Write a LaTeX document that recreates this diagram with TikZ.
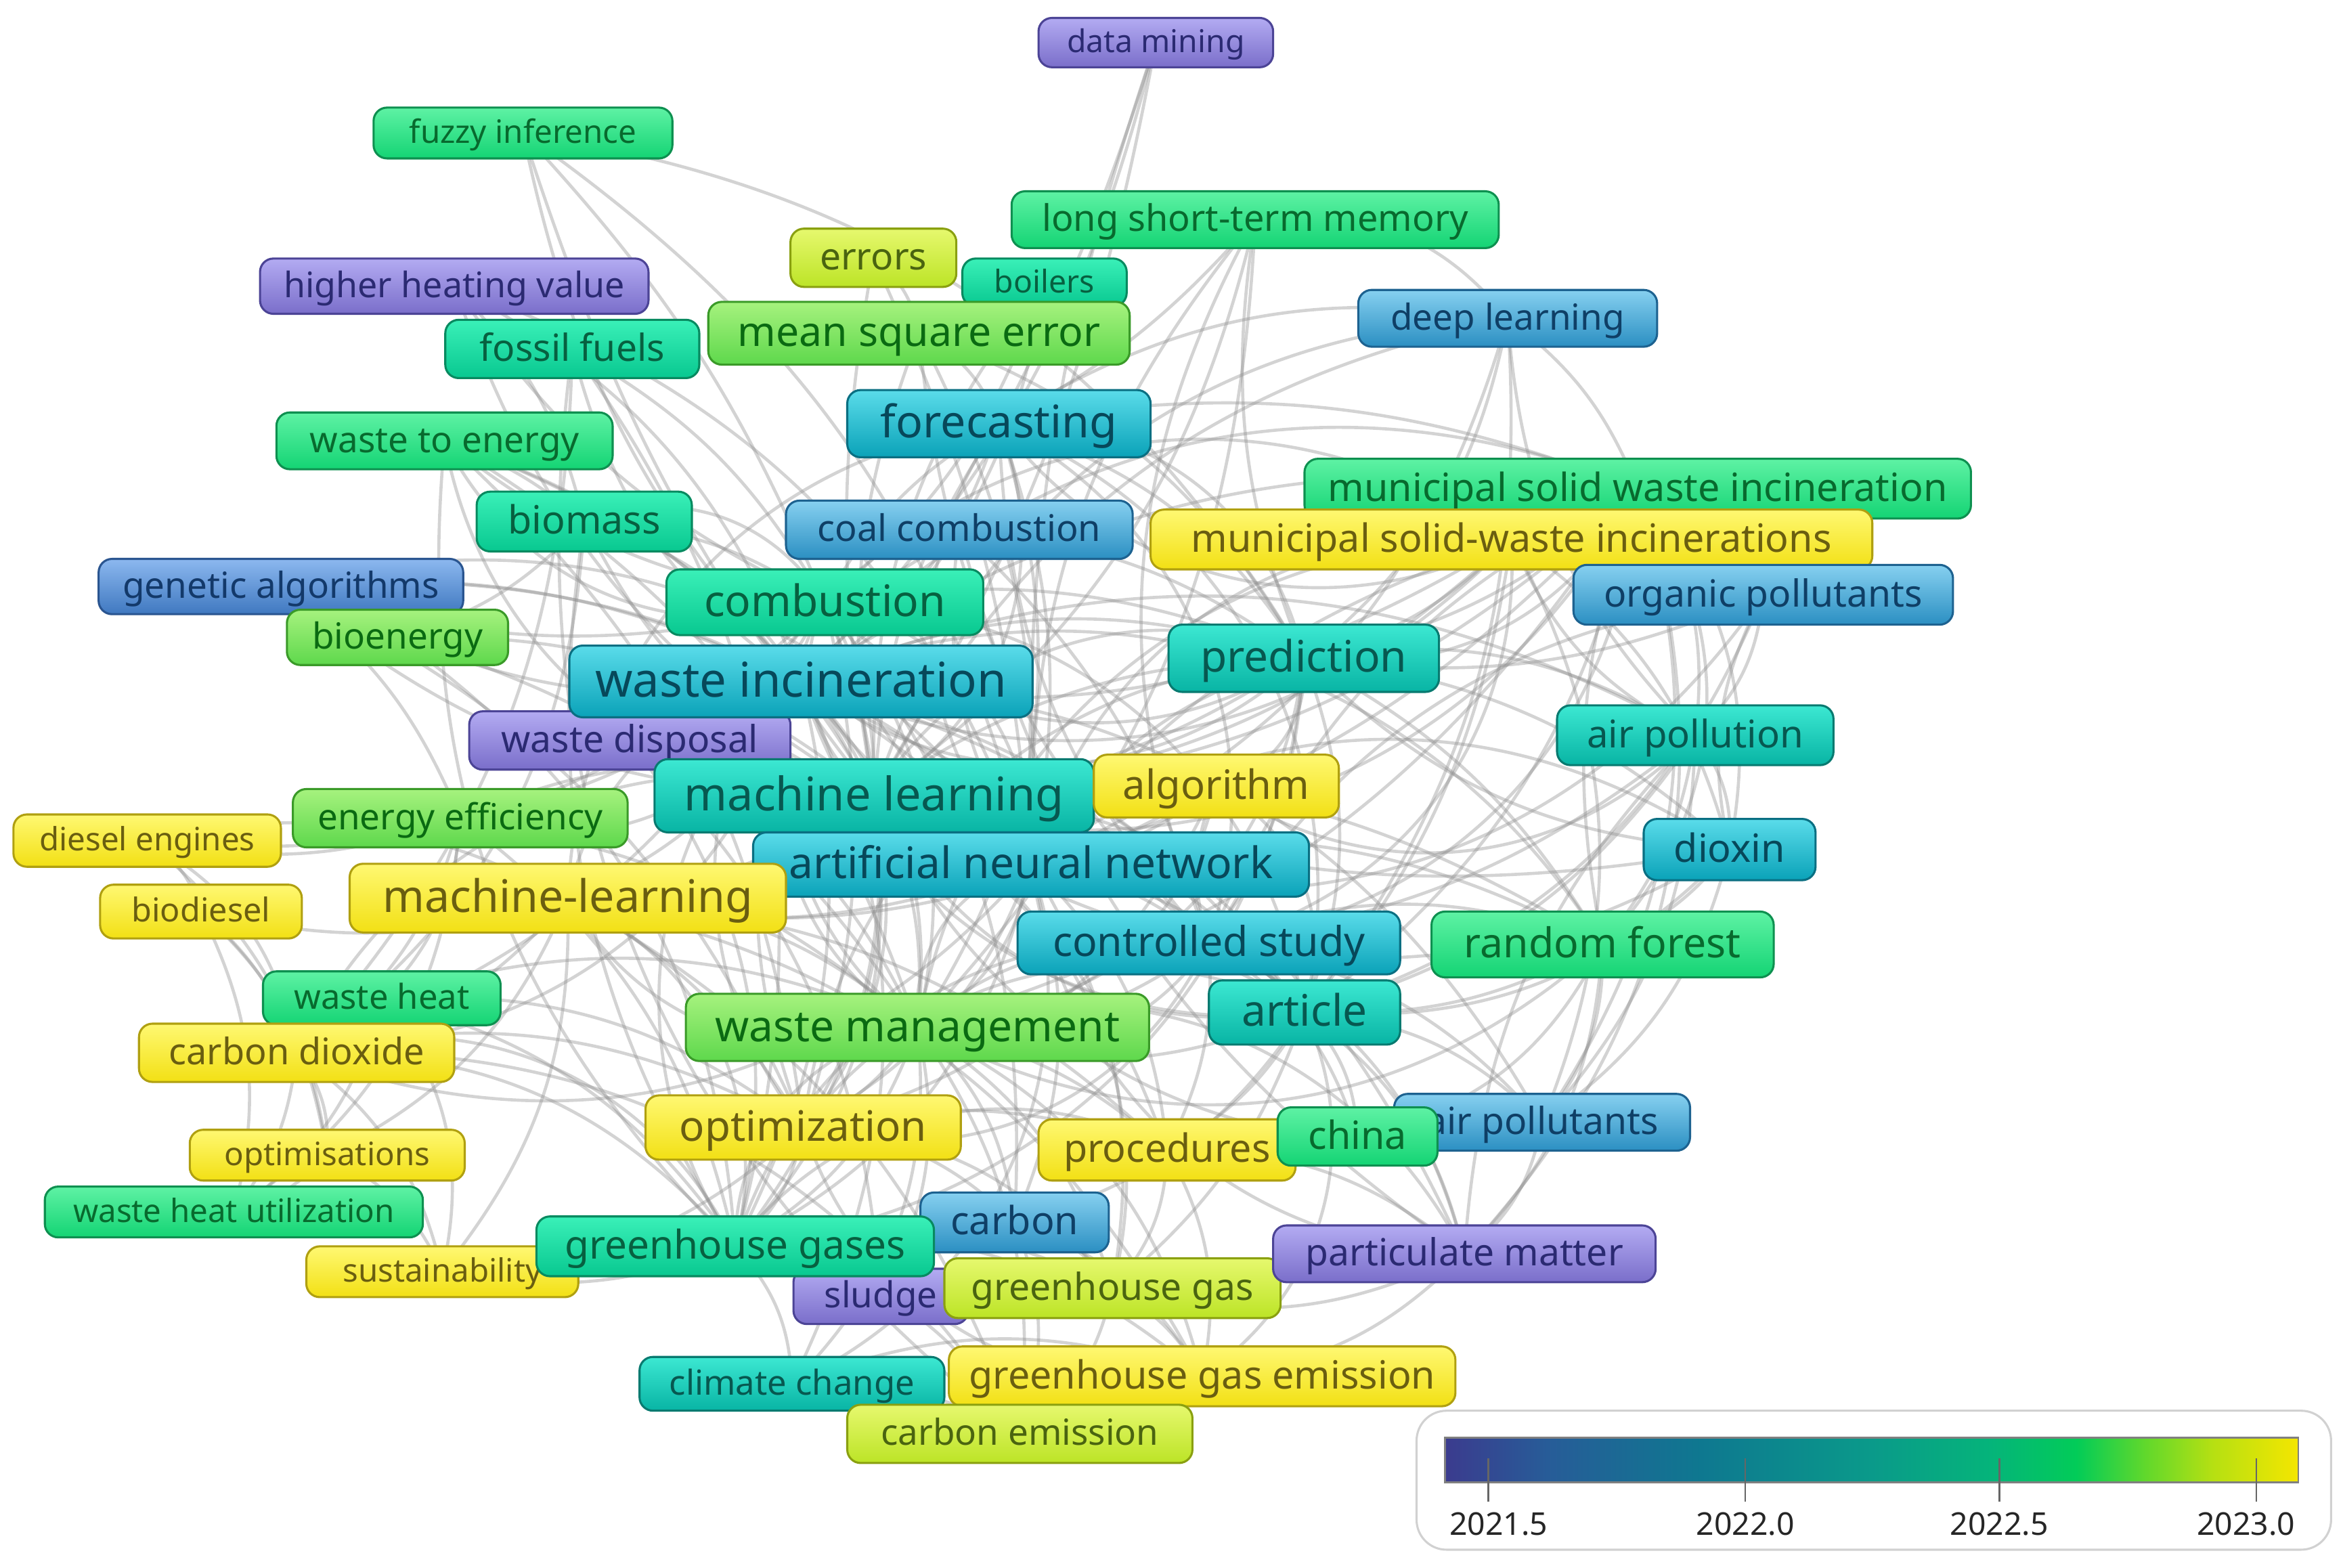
\documentclass[tikz,border=0pt]{standalone}
\usepackage{fontspec}
\setmainfont{Noto Sans}
\usetikzlibrary{backgrounds}
\newcommand\fsz[1]{\fontsize{#1}{#1}\selectfont}
\definecolor{v0}{HTML}{3B3B8E}
\definecolor{v1}{HTML}{275C98}
\definecolor{v2}{HTML}{0E7890}
\definecolor{v3}{HTML}{0A9A8A}
\definecolor{v4}{HTML}{05B47A}
\definecolor{v5}{HTML}{02CC58}
\definecolor{v6}{HTML}{60D82C}
\definecolor{v7}{HTML}{B6E012}
\definecolor{v8}{HTML}{F4E600}
\pgfdeclarehorizontalshading{vbar}{100bp}{color(0bp)=(v0); color(25bp)=(v0); color(31bp)=(v1); color(40bp)=(v2); color(50bp)=(v3); color(57bp)=(v4); color(62bp)=(v5); color(66bp)=(v6); color(70bp)=(v7); color(75bp)=(v8); color(100bp)=(v8)}
\definecolor{pT}{HTML}{B3ABF2}\definecolor{pB}{HTML}{7A6ECA}\definecolor{pD}{HTML}{4C4496}\definecolor{pX}{HTML}{2B2A72}
\definecolor{aT}{HTML}{8CB8EF}\definecolor{aB}{HTML}{3F78C0}\definecolor{aD}{HTML}{2A5590}\definecolor{aX}{HTML}{13396A}
\definecolor{bT}{HTML}{86D0F0}\definecolor{bB}{HTML}{2B8FC2}\definecolor{bD}{HTML}{1D6290}\definecolor{bX}{HTML}{0F3F66}
\definecolor{cT}{HTML}{5ADCEA}\definecolor{cB}{HTML}{0AA2B8}\definecolor{cD}{HTML}{0A6F82}\definecolor{cX}{HTML}{07485A}
\definecolor{tT}{HTML}{3CE8D2}\definecolor{tB}{HTML}{08B4A4}\definecolor{tD}{HTML}{087A70}\definecolor{tX}{HTML}{075850}
\definecolor{qT}{HTML}{3AF0B8}\definecolor{qB}{HTML}{08C890}\definecolor{qD}{HTML}{088A60}\definecolor{qX}{HTML}{076040}
\definecolor{gT}{HTML}{5EF2A4}\definecolor{gB}{HTML}{14D474}\definecolor{gD}{HTML}{0E9050}\definecolor{gX}{HTML}{086A2E}
\definecolor{lT}{HTML}{A6F27E}\definecolor{lB}{HTML}{5ED84C}\definecolor{lD}{HTML}{3A9A28}\definecolor{lX}{HTML}{0A6A12}
\definecolor{yT}{HTML}{E6F86E}\definecolor{yB}{HTML}{BCE426}\definecolor{yD}{HTML}{8AA010}\definecolor{yX}{HTML}{4A6410}
\definecolor{eT}{HTML}{FFF872}\definecolor{eB}{HTML}{F2E014}\definecolor{eD}{HTML}{B0A010}\definecolor{eX}{HTML}{6A5E10}
\tikzset{
  lab/.style={rounded corners=9pt, line width=1.4pt, inner sep=0pt, anchor=center},
  cPur/.style={top color=pT, bottom color=pB, draw=pD, text=pX},
  cBluA/.style={top color=aT, bottom color=aB, draw=aD, text=aX},
  cBluB/.style={top color=bT, bottom color=bB, draw=bD, text=bX},
  cCya/.style={top color=cT, bottom color=cB, draw=cD, text=cX},
  cTea/.style={top color=tT, bottom color=tB, draw=tD, text=tX},
  cTgr/.style={top color=qT, bottom color=qB, draw=qD, text=qX},
  cGrn/.style={top color=gT, bottom color=gB, draw=gD, text=gX},
  cLgr/.style={top color=lT, bottom color=lB, draw=lD, text=lX},
  cYgr/.style={top color=yT, bottom color=yB, draw=yD, text=yX},
  cYel/.style={top color=eT, bottom color=eB, draw=eD, text=eX},
  edge/.style={draw=black!45, draw opacity=0.38, line width=2.1pt},
  tick/.style={draw=black!60, line width=1.2pt},
}
\newcommand\lbl[8]{\node[lab,#1,minimum width=#4pt,minimum height=#5pt,font=\fsz{#6},text height={0.9*#6pt},text depth={0.26*#6pt}] (#8) at (#2,#3) {#7};}
\begin{document}
\begin{tikzpicture}[x=1pt,y=-1pt]
\useasboundingbox (0,0) rectangle (1568,1049);
% labels: style, cx, cy, w, h, font, text, name
\lbl{cPur}{773.5}{28.5}{157}{33}{21}{data mining}{dm}
\lbl{cGrn}{350}{89}{200}{34}{21.5}{fuzzy inference}{fi}
\lbl{cGrn}{840}{147}{326}{38}{24.5}{long short-term memory}{lstm}
\lbl{cYgr}{584.5}{172.5}{111}{39}{25}{errors}{err}
\lbl{cTgr}{699}{189}{110}{32}{21}{boilers}{boil}
\lbl{cPur}{304}{191.5}{260}{37}{23.5}{higher heating value}{hhv}
\lbl{cLgr}{615}{223}{282}{42}{27.5}{mean square error}{mse}
\lbl{cTgr}{383}{233.5}{170}{39}{25}{fossil fuels}{ff}
\lbl{cBluB}{1009}{213}{200}{38}{24}{deep learning}{dl}
\lbl{cCya}{668.5}{283.5}{203}{45}{30}{forecasting}{fc}
\lbl{cGrn}{297.5}{295}{225}{38}{24}{waste to energy}{wte}
\lbl{cGrn}{1096}{327}{446}{40}{26}{municipal solid waste incineration}{mswi}
\lbl{cTgr}{391}{349}{144}{40}{26}{biomass}{bio}
\lbl{cBluB}{642}{354.5}{232}{39}{24.5}{coal combustion}{cc}
\lbl{cYel}{1011.5}{361}{483}{40}{26}{municipal solid-waste incinerations}{mswis}
\lbl{cBluA}{188}{392.5}{244}{37}{24}{genetic algorithms}{ga}
\lbl{cBluB}{1180}{398}{254}{40}{25}{organic pollutants}{op}
\lbl{cTgr}{552}{403}{212}{44}{29}{combustion}{comb}
\lbl{cLgr}{266}{426.5}{148}{37}{24}{bioenergy}{bioe}
\lbl{cPur}{421.5}{495.5}{215}{39}{25}{waste disposal}{wd}
\lbl{cCya}{536}{456}{310}{48}{32}{waste incineration}{wi}
\lbl{cTea}{872.5}{440.5}{181}{45}{29}{prediction}{pred}
\lbl{cTea}{1134.5}{492}{185}{40}{25.5}{air pollution}{ap}
\lbl{cTea}{585}{532.5}{294}{49}{31}{machine learning}{ml}
\lbl{cYel}{814}{526}{164}{42}{27}{algorithm}{alg}
\lbl{cLgr}{308}{547.5}{224}{39}{24}{energy efficiency}{ee}
\lbl{cYel}{98.5}{562.5}{179}{35}{21.5}{diesel engines}{de}
\lbl{cCya}{1157.5}{568.5}{115}{41}{26}{dioxin}{diox}
\lbl{cCya}{690}{578.5}{372}{43}{29}{artificial neural network}{ann}
\lbl{cYel}{380}{601}{292}{46}{30}{machine-learning}{mlh}
\lbl{cYel}{134.5}{610}{135}{36}{22}{biodiesel}{biod}
\lbl{cCya}{809}{631}{256}{42}{27.5}{controlled study}{cs}
\lbl{cGrn}{1072.5}{632}{229}{44}{27.5}{random forest}{rf}
\lbl{cGrn}{255.5}{668}{159}{36}{23}{waste heat}{wh}
\lbl{cTea}{873}{677.5}{128}{43}{29}{article}{art}
\lbl{cLgr}{614}{687.5}{310}{45}{29}{waste management}{wm}
\lbl{cYel}{198.5}{704.5}{211}{39}{24.5}{carbon dioxide}{cd}
\lbl{cYel}{537.5}{754.5}{211}{43}{28}{optimization}{opt}
\lbl{cYel}{781}{769.5}{172}{41}{26}{procedures}{proc}
\lbl{cBluB}{1032}{751}{198}{38}{25}{air pollutants}{apt}
\lbl{cGrn}{908.5}{760.5}{107}{39}{26}{china}{china}
\lbl{cYel}{219}{773}{184}{34}{21.5}{optimisations}{opts}
\lbl{cGrn}{156.5}{811}{253}{34}{21.5}{waste heat utilization}{whu}
\lbl{cBluB}{679}{818}{126}{40}{26}{carbon}{carb}
\lbl{cYel}{296}{851}{182}{34}{21.5}{sustainability}{sus}
\lbl{cPur}{589.5}{867.5}{117}{37}{24}{sludge}{sludge}
\lbl{cTgr}{492}{834}{266}{40}{26.5}{greenhouse gases}{ghgs}
\lbl{cYgr}{744.5}{862}{225}{40}{25}{greenhouse gas}{ghg}
\lbl{cPur}{980}{839}{256}{38}{25}{particulate matter}{pm}
\lbl{cTea}{530}{926}{204}{36}{23}{climate change}{clim}
\lbl{cYel}{804.5}{921}{339}{40}{26}{greenhouse gas emission}{ghge}
\lbl{cYgr}{682.5}{959.5}{231}{39}{24}{carbon emission}{ce}
% connectors
\begin{scope}[on background layer]
\foreach \a/\b/\g in {dm/ml/10,dm/ann/-10,dm/fc/5,dm/wi/15,
 fi/wi/-15,fi/comb/10,fi/ml/-10,fi/ann/20,fi/pred/25,
 lstm/fc/10,lstm/ann/-20,lstm/ml/20,lstm/pred/-15,lstm/dl/30,lstm/cs/-25,lstm/wm/20,
 err/ann/10,err/ml/-10,err/mse/20,boil/comb/15,boil/ml/-20,boil/cc/10,
 hhv/ml/-20,hhv/ann/25,hhv/bio/15,hhv/comb/-15,hhv/wi/20,
 mse/ann/15,mse/ml/-15,mse/pred/20,mse/fc/20,mse/cs/-20,
 ff/comb/15,ff/wi/-20,ff/ghgs/25,ff/cd/20,ff/ce/-30,
 dl/pred/20,dl/ml/-25,dl/ann/25,dl/mswi/15,dl/fc/-20,dl/art/20,dl/ap/-20,
 fc/ann/15,fc/ml/-15,fc/pred/20,fc/wi/20,fc/comb/-15,fc/wm/25,fc/cs/-20,fc/mswi/15,
 wte/wi/15,wte/comb/-15,wte/wm/20,wte/ml/20,wte/bio/10,wte/ghgs/-25,wte/opt/20,
 mswi/wi/-20,mswi/ml/20,mswi/ann/15,mswi/pred/15,mswi/ap/20,mswi/diox/25,mswi/op/20,mswi/cs/-20,mswi/art/20,mswi/rf/-15,mswi/apt/25,mswi/pm/30,mswi/wm/20,
 bio/comb/15,bio/wi/20,bio/ml/-20,bio/bioe/15,bio/ghgs/-20,bio/cd/25,
 cc/comb/10,cc/wi/15,cc/ann/-20,cc/pred/15,cc/pm/-20,cc/cs/15,
 mswis/ml/20,mswis/ann/-15,mswis/pred/15,mswis/op/15,mswis/diox/20,mswis/ap/-20,mswis/apt/25,mswis/art/15,mswis/wi/20,
 ga/ml/-20,ga/wi/15,ga/ann/25,ga/opt/20,ga/comb/-15,ga/ee/15,
 op/pred/15,op/diox/-20,op/ap/20,op/cs/-25,op/art/25,
 comb/ml/15,comb/ann/-20,comb/pred/15,comb/wm/25,comb/ghgs/30,comb/carb/20,comb/cd/20,comb/ee/20,comb/de/25,comb/opt/15,
 bioe/wi/-15,bioe/ml/20,bioe/ghgs/25,bioe/wm/20,
 wi/ml/10,wi/ann/15,wi/pred/20,wi/wm/25,wi/cs/-20,wi/art/20,wi/ap/25,wi/diox/-20,wi/apt/30,wi/pm/25,wi/ghgs/20,wi/clim/25,wi/opt/-20,wi/wd/10,wi/mlh/20,
 pred/ml/15,pred/ann/-20,pred/cs/15,pred/art/20,pred/rf/15,pred/ap/20,pred/diox/-20,
 wd/ml/15,wd/wm/20,wd/ghgs/25,wd/sludge/20,
 ap/art/20,ap/cs/15,ap/diox/20,ap/apt/20,ap/pm/-20,ap/rf/15,
 ml/ann/15,ml/cs/20,ml/art/25,ml/rf/20,ml/wm/15,ml/opt/20,ml/ghgs/25,ml/alg/10,ml/mlh/15,ml/proc/20,
 alg/ann/15,alg/cs/-20,alg/opt/25,alg/mlh/20,
 ee/ml/20,ee/wm/15,ee/ghgs/20,ee/whu/25,ee/wh/20,ee/cd/20,ee/de/15,
 de/mlh/20,de/biod/20,de/cd/25,de/opts/20,
 diox/cs/20,diox/art/25,diox/apt/20,diox/rf/15,
 ann/cs/15,ann/art/20,ann/rf/20,ann/wm/25,ann/opt/20,ann/proc/20,ann/mlh/15,ann/ghgs/25,ann/ghg/20,ann/carb/20,
 mlh/wm/20,mlh/opt/15,mlh/proc/20,mlh/cd/20,mlh/biod/15,mlh/opts/20,mlh/sus/20,mlh/ghge/25,mlh/ce/20,
 biod/opts/20,biod/cd/15,biod/whu/20,
 cs/art/15,cs/rf/20,cs/apt/20,cs/pm/25,cs/proc/15,cs/wm/20,cs/china/20,
 rf/art/15,rf/apt/20,rf/china/25,rf/pm/20,
 wh/whu/20,wh/cd/15,wh/wm/20,wh/opt/20,wh/ghgs/20,wh/sus/25,
 art/apt/20,art/pm/20,art/china/20,art/proc/15,art/wm/20,art/carb/20,art/ghg/15,
 wm/opt/15,wm/ghgs/20,wm/carb/20,wm/ghg/20,wm/proc/15,wm/clim/25,wm/sludge/20,wm/ce/20,wm/ghge/25,
 cd/opt/20,cd/ghgs/25,cd/ce/30,cd/whu/15,cd/opts/20,cd/sus/20,
 opt/proc/15,opt/ghgs/20,opt/carb/20,opt/ghg/25,opt/sus/20,
 proc/china/15,proc/ghg/20,proc/pm/20,proc/ghge/20,
 apt/china/15,apt/pm/20,opts/whu/15,opts/sus/20,
 carb/ghgs/15,carb/ghg/20,carb/ce/20,carb/ghge/20,
 ghgs/ghg/20,ghgs/clim/20,ghgs/ce/25,ghgs/ghge/25,ghgs/sludge/15,ghgs/sus/15,
 pm/ghg/20,pm/ghge/20,ghg/ghge/15,ghg/ce/20,clim/ce/15,clim/ghge/20,ghge/ce/15,
 wi/pred/-40,wi/mswi/35,wi/mswis/-35,wi/art/-40,wi/rf/40,wi/wm/-40,wi/opt/40,wi/ghgs/-40,wi/cd/35,wi/mlh/-35,wi/ee/40,
 ml/pred/40,ml/mswi/-40,ml/diox/40,ml/art/-35,ml/ghg/40,ml/cd/-40,ml/wte/40,ml/fc/-40,ml/comb/40,ml/dl/35,ml/apt/-40,
 ann/fc/40,ann/comb/-40,ann/mswis/40,ann/op/-35,ann/diox/35,ann/pm/-40,ann/wm/-40,ann/clim/40,ann/cd/35,ann/ga/-35,
 comb/wm/-40,comb/mswis/40,comb/pred/-40,comb/art/40,comb/bio/-40,comb/opt/-40,comb/wte/40,
 pred/wm/40,pred/opt/-40,pred/mswi/-35,pred/ghgs/40,pred/fc/-40,
 fc/mswis/-40,fc/art/40,fc/mlh/-40,fc/cs/40,
 wm/cs/-40,wm/art/40,wm/mlh/40,wm/ghgs/-40,wm/pm/40,wm/rf/-35,
 mswi/cs/40,mswi/mswis/45,mswi/rf/40,mswis/cs/40,mswis/wm/-40,
 cs/opt/40,cs/ghgs/-40,art/opt/-40,art/ghge/40,opt/ghge/-40,mlh/ghgs/40,
 alg/wm/40,alg/pred/-40,alg/art/40,alg/ap/-40,ghgs/proc/40,ghgs/cd/-40}
 {\draw[edge] (\a.center) to[bend left=\g] (\b.center);}
\end{scope}
% legend
\node[draw=black!18, line width=1.4pt, rounded corners=20pt, fill=white, minimum width=612pt, minimum height=93pt, inner sep=0pt] (legend) at (1254,990.5) {};
\shade[shading=vbar, draw=black!50, line width=1.2pt] (967,962) rectangle (1538,992);
\foreach \x/\lx/\t in {996/1003/2021.5,1168/1168/2022.0,1338/1338/2022.5,1510/1503/2023.0}{
  \draw[tick] (\x,976) -- (\x,1005);
  \node[font=\fsz{21}, text=black!85] at (\lx,1020) {\t};
}
\end{tikzpicture}
\end{document}
